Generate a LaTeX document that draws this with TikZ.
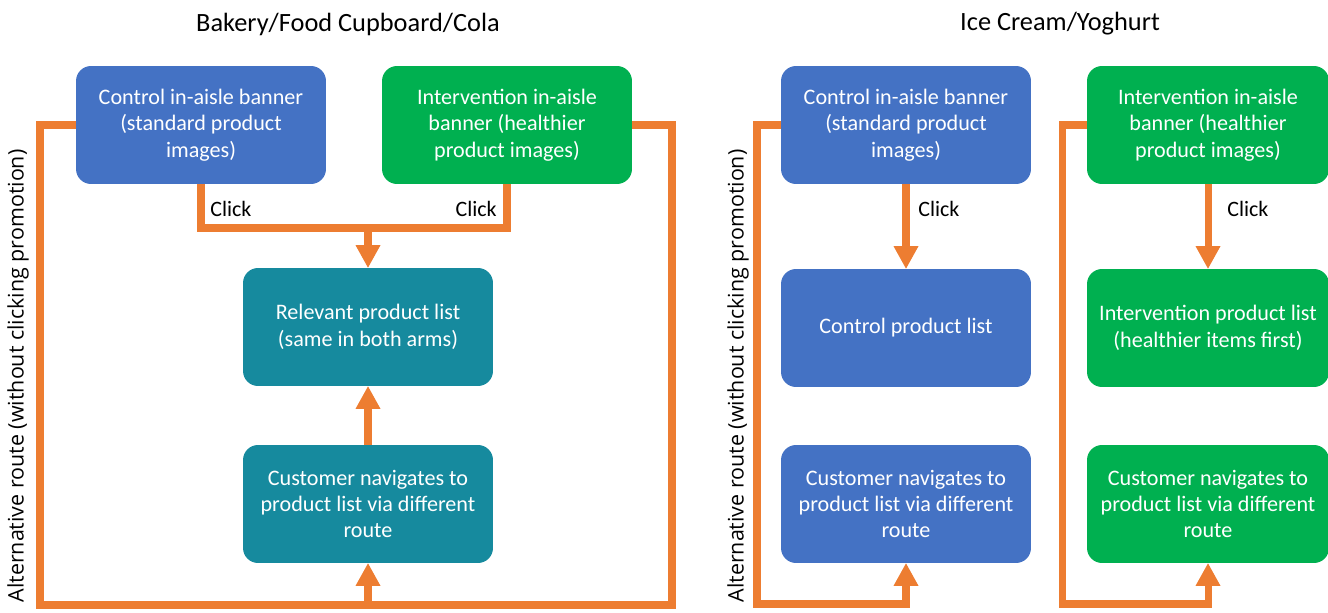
\documentclass[tikz,border=0pt]{standalone}
\usepackage{fontspec}
\setmainfont{Carlito}
\newfontfamily\sidefont{Open Sans}
\usetikzlibrary{arrows.meta}
\definecolor{ctlblue}{RGB}{68,114,196}
\definecolor{intgreen}{RGB}{0,176,80}
\definecolor{relteal}{RGB}{22,138,158}
\definecolor{routeorange}{RGB}{237,125,49}
\begin{document}
\begin{tikzpicture}[x=0.02cm, y=-0.02cm,
    box/.style={rounded corners=0.3cm, minimum width=5cm, minimum height=2.36cm,
        align=center, text=white, font=\fontsize{12.6}{15}\selectfont},
    ctlbox/.style={box, fill=ctlblue},
    intbox/.style={box, fill=intgreen},
    relbox/.style={box, fill=relteal},
    route/.style={draw=routeorange, line width=4pt},
    arr/.style={route, -{Triangle[width=0.5cm, length=0.45cm, line width=0pt]}},
    clicklbl/.style={inner sep=0pt, font=\fontsize{12.5}{14}\selectfont},
    titlelbl/.style={font=\fontsize{15}{17}\selectfont},
    altlbl/.style={rotate=90, font=\sidefont\fontsize{12.2}{14}\selectfont}]
    \useasboundingbox (0,0) rectangle (1328,612);
    \node[titlelbl] (titleA) at (348,24) {Bakery/Food Cupboard/Cola};
    \node[ctlbox] (ctlA) at (201,125) {Control in-aisle banner\\(standard product\\images)};
    \node[intbox] (intA) at (507,125) {Intervention in-aisle\\banner (healthier\\product images)};
    \node[relbox] (relA) at (368,327) {Relevant product list\\(same in both arms)};
    \node[relbox] (navA) at (368,504) {Customer navigates to\\product list via different\\route};
    \coordinate (joinA) at (368,228);
    \draw[route] (ctlA.south) |- (joinA) -| (intA.south);
    \node[clicklbl, anchor=west] (clickA1) at (210,209) {Click};
    \node[clicklbl, anchor=east] (clickA2) at (497,209) {Click};
    \draw[arr] (joinA) -- (relA.north);
    \draw[arr] (navA.north) -- (relA.south);
    \coordinate (altA1) at (40,605);
    \coordinate (altA2) at (672,605);
    \coordinate (upA) at (368,605);
    \draw[route] (ctlA.west) -| (altA1) -- (altA2) |- (intA.east);
    \draw[arr] (upA) -- (navA.south);
    \node[altlbl] (altlblA) at (18,376) {Alternative route (without clicking promotion)};

    \node[titlelbl] (titleB) at (1060,24) {Ice Cream/Yoghurt};
    \node[ctlbox] (ctlB) at (906,125) {Control in-aisle banner\\(standard product\\images)};
    \node[ctlbox] (clistB) at (906,328) {Control product list};
    \node[ctlbox] (navB) at (906,504) {Customer navigates to\\product list via different\\route};
    \node[intbox, minimum width=4.84cm] (intB) at (1208,125) {Intervention in-aisle\\banner (healthier\\product images)};
    \node[intbox, minimum width=4.84cm] (ilistB) at (1208,328) {Intervention product list\\(healthier items first)};
    \node[intbox, minimum width=4.84cm] (inavB) at (1208,504) {Customer navigates to\\product list via different\\route};
    \draw[arr] (ctlB.south) -- (clistB.north);
    \draw[arr] (intB.south) -- (ilistB.north);
    \node[clicklbl, anchor=west] (clickB1) at (918,209) {Click};
    \node[clicklbl, anchor=west] (clickB2) at (1227,209) {Click};
    \coordinate (altB1) at (757,604);
    \coordinate (altC1) at (1062,604);
    \draw[arr] (ctlB.west) -| (altB1) -| (navB.south);
    \draw[arr] (intB.west) -| (altC1) -| (inavB.south);
    \node[altlbl] (altlblB) at (738,376) {Alternative route (without clicking promotion)};
\end{tikzpicture}
\end{document}
